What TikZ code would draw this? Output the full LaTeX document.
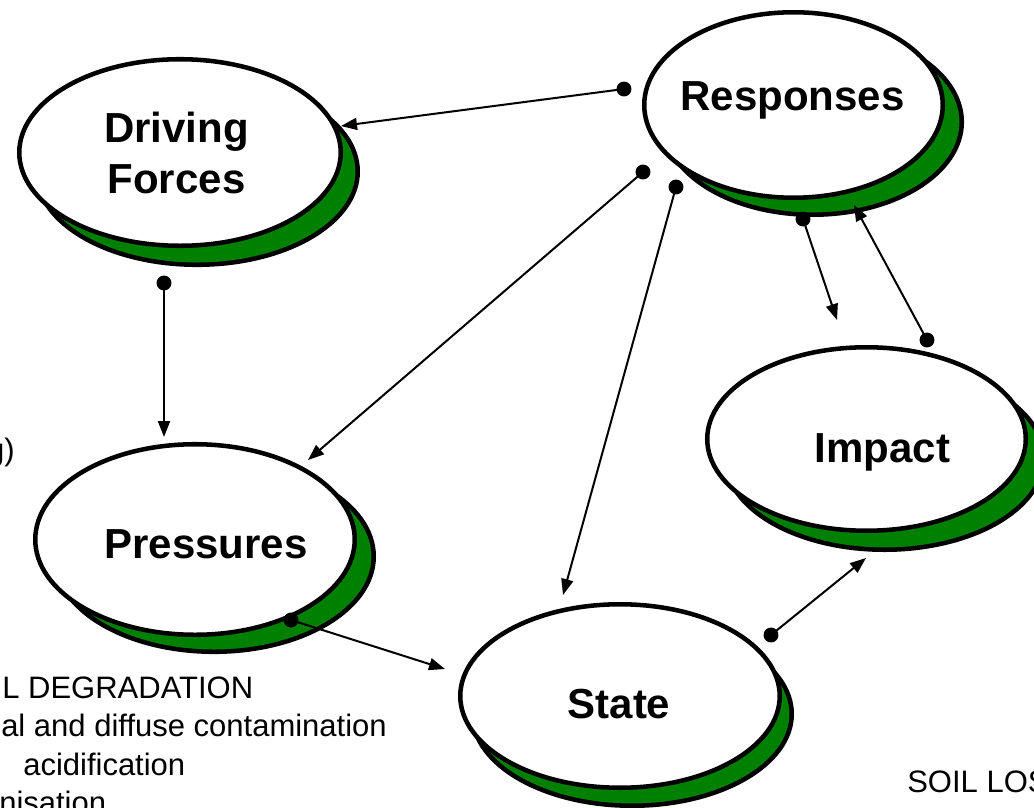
\documentclass[tikz,border=0pt]{standalone}
\usepackage{fontspec}
\setmainfont{Liberation Sans}
\usetikzlibrary{shapes.geometric,arrows.meta}
\definecolor{leafgreen}{RGB}{0,128,0}
\begin{document}
\begin{tikzpicture}[x=0.75pt,y=-0.75pt,
  bubble/.style={ellipse, draw=black, line width=3.4pt, fill=white, inner sep=0pt},
  bubbleshadow/.style={ellipse, draw=black, line width=3.4pt, fill=leafgreen, inner sep=0pt},
  ovalsize/.style 2 args={minimum width=#1, minimum height=#2},
  title/.style={font=\fontsize{31.5}{38.25}\selectfont\bfseries, inner sep=0pt},
  note/.style={font=\fontsize{23.25}{28}\selectfont, inner sep=0pt},
  link/.style={line width=1.5pt, -{Triangle[length=12pt,width=9pt]}},
  knob/.style={fill=black}
]
\useasboundingbox (0,0) rectangle (1034,807);
\clip (0,0) rectangle (1034,807);

% ellipses with their green drop shadows
\node[bubbleshadow, ovalsize={241.1pt}{139.9pt}] (df-sh) at (197,171.5) {};
\node[bubble, ovalsize={241.1pt}{139.9pt}] (df) at (180,152.5) {};

\node[bubbleshadow, ovalsize={223.9pt}{139.1pt}] (resp-sh) at (812.5,122) {};
\node[bubble, ovalsize={223.9pt}{139.1pt}] (resp) at (793.5,105) {};

\node[bubbleshadow, ovalsize={239.6pt}{142.9pt}] (press-sh) at (214,556.5) {};
\node[bubble, ovalsize={239.6pt}{142.9pt}] (press) at (195,539.5) {};

\node[bubbleshadow, ovalsize={238.9pt}{137.6pt}] (imp-sh) at (884.5,458) {};
\node[bubble, ovalsize={238.9pt}{137.6pt}] (imp) at (866.5,439) {};

\node[bubbleshadow, ovalsize={239.6pt}{137.6pt}] (state-sh) at (632,714) {};
\node[bubble, ovalsize={239.6pt}{137.6pt}] (state) at (620,696) {};

% titles
\node[title, align=center, anchor=north] (df-t) at (176.5,112) {Driving\\Forces};
\node[title, anchor=base] (resp-t) at (792.5,110) {Responses};
\node[title, anchor=base] (press-t) at (206,558) {Pressures};
\node[title, anchor=base] (imp-t) at (882.5,462) {Impact};
\node[title, anchor=base] (state-t) at (619,718) {State};

% connector end points, placed relative to the ellipses
\coordinate (a1) at ([shift={(-169.5,-16)}]resp.center);
\coordinate (b1) at ([shift={(161,-26.5)}]df.center);
\coordinate (a2) at ([shift={(-16,130.5)}]df.center);
\coordinate (b2) at ([shift={(-31,-102.5)}]press.center);
\coordinate (a3) at ([shift={(-150.5,67)}]resp.center);
\coordinate (b3) at ([shift={(113,-79.5)}]press.center);
\coordinate (a4) at ([shift={(-117.5,82)}]resp.center);
\coordinate (b4) at ([shift={(-57,-101)}]state.center);
\coordinate (a5) at ([shift={(96,80.5)}]press.center);
\coordinate (b5) at ([shift={(-175,-27)}]state.center);
\coordinate (a6) at ([shift={(151,-61)}]state.center);
\coordinate (b6) at ([shift={(-0.5,119)}]imp.center);
\coordinate (a7) at ([shift={(9.5,114)}]resp.center);
\coordinate (b7) at ([shift={(-29.5,-119)}]imp.center);
\coordinate (a8) at ([shift={(60.5,-99)}]imp.center);
\coordinate (b8) at ([shift={(60.5,100)}]resp.center);

\foreach \i in {1,...,8}{
  \draw[link] (a\i) -- (b\i);
  \fill[knob] (a\i) circle[radius=5.6pt];
}

% side notes
\node[note, anchor=base east] (n0) at (15,460) {g)};
\node[note, anchor=base east] (n1) at (253.5,698) {L DEGRADATION};
\node[note, anchor=base east] (n2) at (387,736.5) {al and diffuse contamination};
\node[note, anchor=base west] (n3) at (23,775) {acidification};
\node[note, anchor=base west] (n4) at (-1,813.5) {nisation};
\node[note, anchor=base west] (n5) at (907,792) {SOIL LOS};
\end{tikzpicture}
\end{document}
